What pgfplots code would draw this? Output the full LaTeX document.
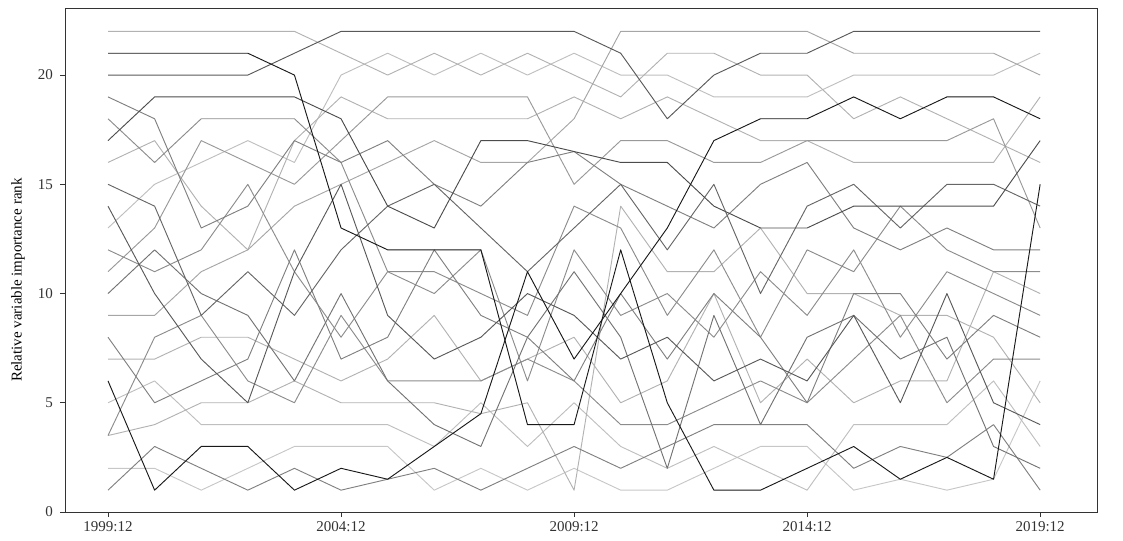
\documentclass[border=0pt]{standalone}
\usepackage{fontspec}
\setmainfont{Liberation Serif}
\usepackage{pgfplots}
\usepackage{pgfplotstable}
\pgfplotsset{compat=1.18}
\usetikzlibrary{calc}

% Yearly importance ranks of the 22 variables (t = 0 is 1999:12)
\pgfplotstableread{
t  a  b   c  d    e  f    g  h  i  j  k  l  m  n  o  p  q   r s   u   v   w
0  22 21  20 19   18 17   16 15 14 13 12 11 10 9  8  7  6   5 3.5 3.5 2   1
1  22 21  20 18   16 19   17 14 10 15 11 13 12 9  5  7  1   6 4   8   2   3
2  22 21  20 13   18 19   14 9  7  16 12 17 10 11 6  8  3   4 5   9   1   2
3  22 21  20 14   18 19   12 11 5  17 15 16 9  12 7  8  3   4 5   6   2   1
4  22 20  21 17   18 19   17 9  11 16 11 15 6  14 12 7  1   4 6   5   3   2
5  21 13  22 16   16 18   19 12 15 20 8  17 10 15 7  6  2   4 5   9   3   1
6  20 12  22 17   11 14   18 14 9  21 11 19 6  16 8  7  1.5 4 5   6   3   1.5
7  21 12  22 15   11 13   18 15 7  20 10 19 4  17 12 9  3   3 5   6   1   2
8  20 12  22 14   10 17   18 13 8  21 12 19 3  16 9  6  4.5 5 4.5 6   2   1
9  21 4   22 16   9  17   18 11 10 20 6  19 8  16 8  7  11  3 5   7   1   2
10 20 4   22 16.5 14 16.5 19 13 9  21 12 15 11 18 6  8  7   5 1   6   2   3
11 19 12  21 15   13 16   18 15 7  20 9  17 8  22 10 5  10  3 14  4   1   2
12 21 5   18 14   9  16   19 12 8  20 10 17 2  22 7  6  13  2 11  4   1   3
13 21 1   20 13   12 14   18 15 6  19 8  16 9  22 10 10 17  3 11  5   2   4
14 20 1   21 15   8  13   17 10 7  19 11 16 4  22 8  5  18  2 13  6   3   4
15 20 2   21 16   12 13   17 14 6  19 9  17 8  22 5  7  18  1 10  5   3   4
16 18 3   22 13   11 14   16 15 9  20 12 17 9  21 10 5  19  4 10  7   1   2
17 19 1.5 22 12   14 14   16 13 5  20 8  17 7  21 10 6  18  4 9   9   1.5 3
18 18 2.5 22 13   12 14   16 15 10 20 11 17 8  21 7  6  19  4 9   5   1   2.5
19 17 1.5 22 12   11 14   16 15 5  20 10 18 3  21 9  11 19  6 8   7   1.5 4
20 16 15  22 12   11 17   19 14 4  21 9  13 2  20 8  10 18  3 5   7   6   1
}\ranks

\begin{document}
\begin{tikzpicture}
\begin{axis}[
  scale only axis,
  width=774pt, height=378pt,
  xmin=-0.923, xmax=21.22,
  ymin=0, ymax=23.07,
  xtick={0,5,10,15,20},
  xticklabels={1999:12,2004:12,2009:12,2014:12,2019:12},
  ytick={0,5,10,15,20},
  xtick pos=bottom, ytick pos=left,
  tick align=outside,
  major tick length=3.5pt,
  tick style={black!80, line width=0.6pt},
  axis line style={black!80, line width=0.6pt},
  /pgf/number format/assume math mode=true,
  ticklabel style={font=\fontsize{11.25}{13}\selectfont, text=black!80},
  yticklabel style={xshift=-2pt},
  ylabel={Relative variable importance rank},
  ylabel style={font=\fontsize{11.25}{13}\selectfont, at={(axis description cs:-0.0455,0.46)}, anchor=center},
  every axis plot/.append style={line width=0.7pt, line join=round, mark=none},
]
% light series first, darker ones on top
\addplot[black!22] table[x=t,y=v] {\ranks};
\addplot[black!25] table[x=t,y=r] {\ranks};
\addplot[black!25] table[x=t,y=j] {\ranks};
\addplot[black!30] table[x=t,y=a] {\ranks};
\addplot[black!30] table[x=t,y=g] {\ranks};
\addplot[black!30] table[x=t,y=p] {\ranks};
\addplot[black!30] table[x=t,y=s] {\ranks};
\addplot[black!35] table[x=t,y=n] {\ranks};
\addplot[black!40] table[x=t,y=l] {\ranks};
\addplot[black!45] table[x=t,y=e] {\ranks};
\addplot[black!45] table[x=t,y=k] {\ranks};
\addplot[black!45] table[x=t,y=u] {\ranks};
\addplot[black!50] table[x=t,y=d] {\ranks};
\addplot[black!50] table[x=t,y=o] {\ranks};
\addplot[black!50] table[x=t,y=w] {\ranks};
\addplot[black!55] table[x=t,y=m] {\ranks};
\addplot[black!60] table[x=t,y=h] {\ranks};
\addplot[black!65] table[x=t,y=c] {\ranks};
\addplot[black!65] table[x=t,y=i] {\ranks};
\addplot[black!70] table[x=t,y=f] {\ranks};
\addplot[black!90] table[x=t,y=b] {\ranks};
\addplot[black!90] table[x=t,y=q] {\ranks};
\coordinate (SW) at (rel axis cs:0,0);
\coordinate (NE) at (rel axis cs:1,1);
\end{axis}
\pgfresetboundingbox
\path ($(SW)+(-48.75pt,-21pt)$) rectangle ($(NE)+(19.5pt,6pt)$);
\end{tikzpicture}
\end{document}
